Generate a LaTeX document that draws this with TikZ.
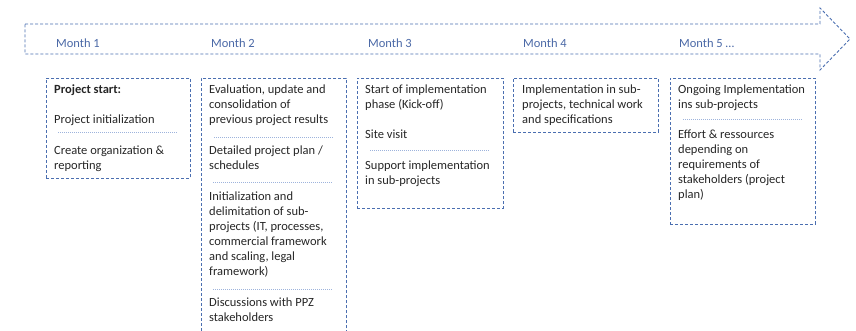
\documentclass[tikz,border=0pt]{standalone}
\usepackage{fontspec}
\setmainfont{Carlito}
\definecolor{boxblue}{HTML}{4A6EB0}
\definecolor{monthblue}{HTML}{4A68A6}
\definecolor{seplblue}{HTML}{9DB3DC}
\definecolor{txtgray}{HTML}{262626}
\tikzset{
  box/.style={draw=boxblue, dash pattern=on 3pt off 2pt, line width=0.9pt, inner sep=0pt, anchor=north west},
  txt/.style={anchor=north west, inner sep=0pt, align=left, font=\fontsize{12.5}{15}\selectfont, text=txtgray},
  sep/.style={draw=seplblue, line width=0.6pt, dash pattern=on 1pt off 1pt},
  month/.style={anchor=west, inner sep=0pt, font=\fontsize{12.5}{14}\selectfont, text=monthblue},
  timeline/.style={draw=boxblue, dash pattern=on 3pt off 2pt, line width=0.9pt}
}
\begin{document}
\begin{tikzpicture}[x=1pt,y=-1pt]
\useasboundingbox (0,0) rectangle (856,331);
% timeline arrow
\draw[timeline] (25,24) -- (820,24) -- (820,8) -- (850,39) -- (820,70) -- (820,54) -- (25,54) -- cycle;
\node[month] (m1) at (56,43) {Month 1};
\node[month] (m2) at (211,43) {Month 2};
\node[month] (m3) at (368,43) {Month 3};
\node[month] (m4) at (523,43) {Month 4};
\node[month] (m5) at (679,43) {Month 5 …};
% boxes
\node[box, minimum width=144pt, minimum height=100pt] (b1) at (46,78) {};
\node[box, minimum width=145pt, minimum height=290pt] (b2) at (201,78) {};
\node[box, minimum width=146pt, minimum height=130pt] (b3) at (357,78) {};
\node[box, minimum width=145pt, minimum height=54pt] (b4) at (513,78) {};
\node[box, minimum width=145pt, minimum height=146pt] (b5) at (670,78) {};
% box 1
\node[txt] (t1a) at (54,83) {\strut\textbf{Project start:}};
\node[txt] (t1b) at (54,113) {\strut Project initialization};
\draw[sep] (58,132) -- (178,132);
\node[txt] (t1c) at (54,144) {\strut Create organization \&\\reporting};
% box 2
\node[txt] (t2a) at (209,83) {\strut Evaluation, update and\\consolidation of\\previous project results};
\draw[sep] (214,137) -- (334,137);
\node[txt] (t2b) at (209,144) {\strut Detailed project plan /\\schedules};
\draw[sep] (213,182) -- (333,182);
\node[txt] (t2c) at (209,190) {\strut Initialization and\\delimitation of sub-\\projects (IT, processes,\\commercial framework\\and scaling, legal\\framework)};
\draw[sep] (213,289) -- (333,289);
\node[txt] (t2d) at (209,296) {\strut Discussions with PPZ\\stakeholders};
% box 3
\node[txt] (t3a) at (365,83) {\strut Start of implementation\\phase (Kick-off)};
\node[txt] (t3b) at (365,128) {\strut Site visit};
\draw[sep] (370,150) -- (489,150);
\node[txt] (t3c) at (365,159) {\strut Support implementation\\in sub-projects};
% box 4
\node[txt] (t4a) at (522,83) {\strut Implementation in sub-\\projects, technical work\\and specifications};
% box 5
\node[txt] (t5a) at (678,83) {\strut Ongoing Implementation\\ins sub-projects};
\draw[sep] (683,119) -- (802,119);
\node[txt] (t5b) at (678,128) {\strut Effort \& ressources\\depending on\\requirements of\\stakeholders (project\\plan)};
\end{tikzpicture}
\end{document}
